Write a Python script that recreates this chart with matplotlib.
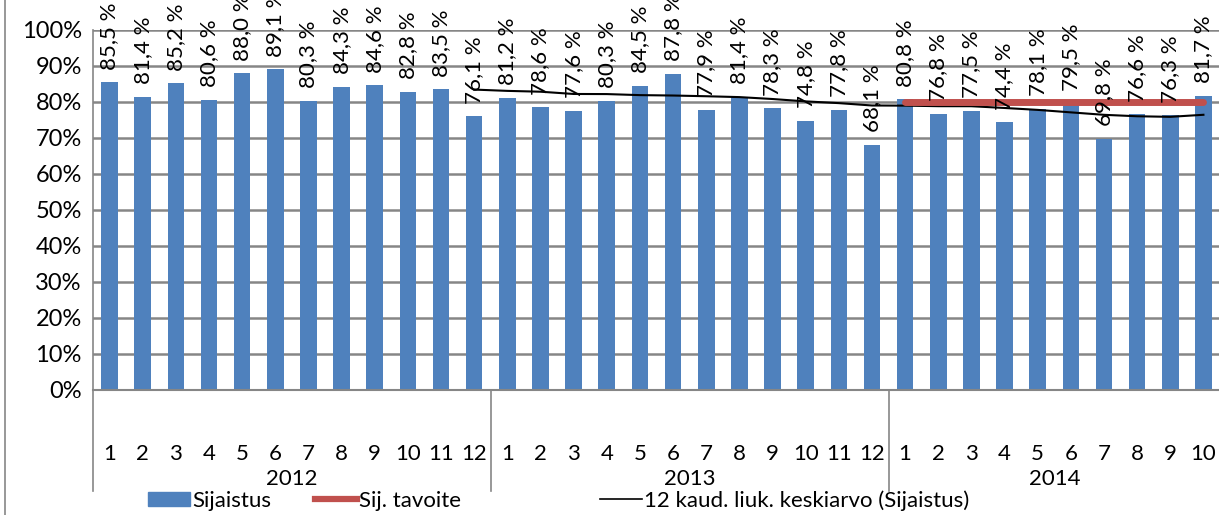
import numpy as np
import matplotlib
matplotlib.use("Agg")
import matplotlib.pyplot as plt
import matplotlib.transforms as mtransforms
from matplotlib.lines import Line2D
from matplotlib.patches import Patch

plt.rcParams['font.family'] = ['Lato', 'DejaVu Sans']

years = ['2012', '2013', '2014']
months_per_year = [12, 12, 10]
sijaistus = [85.5, 81.4, 85.2, 80.6, 88.0, 89.1, 80.3, 84.3, 84.6, 82.8, 83.5, 76.1,
             81.2, 78.6, 77.6, 80.3, 84.5, 87.8, 77.9, 81.4, 78.3, 74.8, 77.8, 68.1,
             80.8, 76.8, 77.5, 74.4, 78.1, 79.5, 69.8, 76.6, 76.3, 81.7]
# 12 kaud. liukuva keskiarvo, starts at 2012/12
liuk_keskiarvo = [83.45, 83.09, 82.86, 82.23, 82.20, 81.91, 81.80, 81.60, 81.36,
                  80.83, 80.17, 79.69, 79.03, 78.99, 78.84, 78.83, 78.34, 77.81,
                  77.12, 76.44, 76.04, 75.88, 76.45]
tavoite = [80.0] * 10  # 2014/1 - 2014/10
legend_names = ['Sijaistus', 'Sij. tavoite', '12 kaud. liuk. keskiarvo (Sijaistus)']

month_labels = []
for n in months_per_year:
    month_labels += [str(m) for m in range(1, n + 1)]

blue = '#4F81BD'
red = '#C0504D'
grid_c = '#868686'

fig = plt.figure(figsize=(12.19, 5.15), dpi=100)
ax = fig.add_axes([93 / 1219, 1 - 390 / 515, 1127 / 1219, 360 / 515])

x = np.arange(len(sijaistus))
vals = np.array(sijaistus) / 100
ax.bar(x, vals, width=0.5, color=blue, zorder=2)

for xi, v in zip(x, sijaistus):
    ax.annotate(f"{v:.1f}".replace('.', ',') + " %", (xi, v / 100),
                xytext=(0, 9), textcoords='offset points', rotation=90,
                ha='center', va='bottom', fontsize=16, annotation_clip=False, zorder=4)

ma_x = x[11:]
ax.plot(ma_x, np.array(liuk_keskiarvo) / 100, color='black', lw=1.5, zorder=3)
t_x = x[24:]
ax.plot(t_x, np.array(tavoite) / 100, color=red, lw=5, solid_capstyle='round', zorder=3)

ax.set_xlim(-0.5, len(sijaistus) - 0.5)
ax.set_ylim(0, 1)
ax.set_yticks(np.arange(0, 1.01, 0.1))
ax.set_yticklabels([f"{int(round(t * 100))}%" for t in np.arange(0, 1.01, 0.1)])
ax.yaxis.grid(True, color=grid_c, lw=1.8, zorder=0)
ax.set_axisbelow(True)
ax.set_xticks(x)
ax.set_xticklabels(month_labels)
ax.tick_params(axis='both', length=0)
ax.tick_params(axis='y', pad=8, labelsize=17)
ax.tick_params(axis='x', pad=39, labelsize=16)
for s in ['top', 'right']:
    ax.spines[s].set_visible(False)
ax.spines['left'].set_color(grid_c)
ax.spines['bottom'].set_color(grid_c)
ax.spines['left'].set_linewidth(1.2)
ax.spines['bottom'].set_linewidth(1.5)

# year groups below the axis
trans = mtransforms.blended_transform_factory(ax.transData, ax.transAxes)
start = 0
for yr, n in zip(years, months_per_year):
    ax.plot([start - 0.5, start - 0.5], [0, -0.28], transform=trans, color=grid_c,
            lw=1.2, clip_on=False)
    ax.text(start + (n - 1) / 2, -0.247, yr, transform=trans, ha='center', va='center',
            fontsize=16)
    start += n

# outer chart frame (left edge)
fig.add_artist(Line2D([5 / 1219, 5 / 1219], [0, 1], color=grid_c, lw=1.2))

# legend items placed one by one like in the excel chart
handles = [Patch(color=blue), Line2D([], [], color=red, lw=4.5),
           Line2D([], [], color='black', lw=1.2)]
lx = [148, 315, 600]
for h, name, px in zip(handles, legend_names, lx):
    fig.legend([h], [name], loc='center left', bbox_to_anchor=(px / 1219, 0.028),
               frameon=False, fontsize=16, handlelength=1.9, handleheight=0.6,
               handletextpad=0.1, borderpad=0, borderaxespad=0)

fig.savefig('out.png', dpi=100)
